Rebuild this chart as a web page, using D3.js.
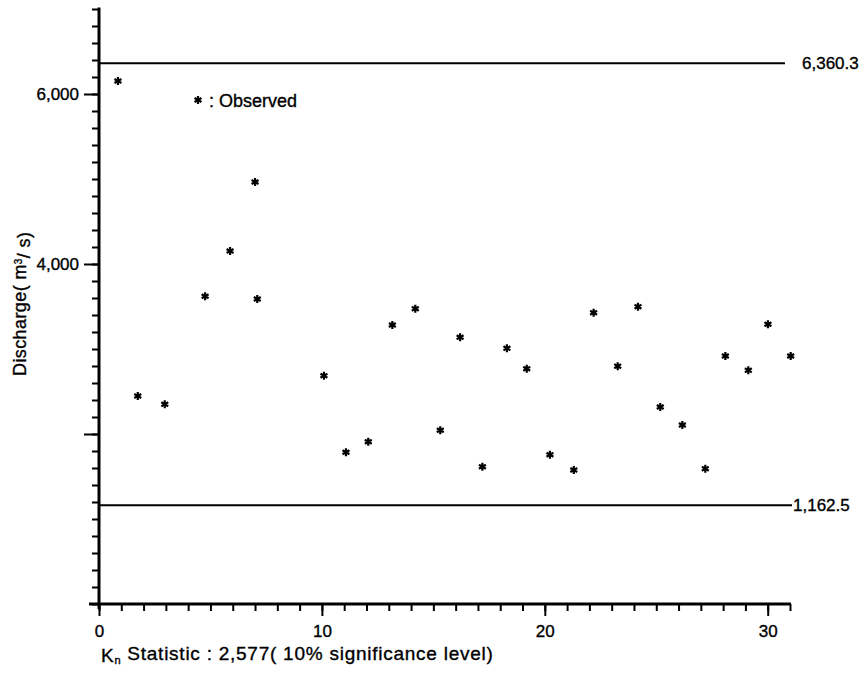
<!DOCTYPE html>
<html>
<head>
<meta charset="utf-8">
<script src="https://cdn.jsdelivr.net/npm/d3@7"></script>
<style>
  html, body { margin: 0; padding: 0; background: #fff; }
  svg text { font-family: "Liberation Sans", Arial, sans-serif; fill: #000; stroke: #000; stroke-width: 0.35px; }
</style>
</head>
<body>
<svg id="chart" width="864" height="677"></svg>
<script>
// ---- data ----
const obsX = [0.85, 1.74, 2.95, 4.76, 5.88, 7.0, 7.1, 10.09, 11.08, 12.08, 13.16, 14.19, 15.31, 16.2, 17.2,
              18.3, 19.19, 20.23, 21.3, 22.19, 23.27, 24.18, 25.18, 26.17, 27.2, 28.1, 29.13, 30.01, 31.03];
const obsQ = [6153, 2447, 2349, 3620, 4153, 4965, 3588, 2686, 1785, 1909, 3282, 3474, 2044, 3138, 1615,
              3008, 2768, 1756, 1576, 3427, 2798, 3498, 2318, 2106, 1592, 2918, 2749, 3291, 2918];
const refValues = [6360.3, 1162.5];
const refLabels = ["6,360.3", "1,162.5"];
const yLabelTicks = [4000, 6000];
const yLabelText = ["4,000", "6,000"];
const yMajorTicks = [2000, 4000, 6000];
const xMajorTicks = [0, 10, 20, 30];
const xTickLabels = ["0", "10", "20", "30"];

const svg = d3.select("#chart");
const x = d3.scaleLinear().domain([0, 31]).range([99, 790]);
const y = d3.scaleLinear().domain([0, 7000]).range([604, 9]);

// y minor ticks
const gyMinor = svg.append("g").attr("transform", `translate(${x(0)},0)`)
  .call(d3.axisLeft(y).tickValues(d3.range(0, 7001, 200)).tickSize(7).tickFormat(""));
gyMinor.select(".domain").remove();
gyMinor.selectAll("line").attr("stroke", "#000").attr("stroke-width", 2);

// y major ticks with labels
const gyMajor = svg.append("g").attr("transform", `translate(${x(0)},0)`)
  .call(d3.axisLeft(y).tickValues(yMajorTicks).tickSize(15).tickPadding(5)
    .tickFormat(d => { const i = yLabelTicks.indexOf(d); return i >= 0 ? yLabelText[i] : ""; }));
gyMajor.select(".domain").remove();
gyMajor.selectAll("line").attr("stroke", "#000").attr("stroke-width", 2);
gyMajor.selectAll("text").style("font-size", "17px").attr("fill", "#000");

// x minor ticks
const gxMinor = svg.append("g").attr("transform", `translate(0,${y(0)})`)
  .call(d3.axisBottom(x).tickValues(d3.range(0, 32, 1)).tickSize(7).tickFormat(""));
gxMinor.select(".domain").remove();
gxMinor.selectAll("line").attr("stroke", "#000").attr("stroke-width", 2);

// x major ticks with labels
const gxMajor = svg.append("g").attr("transform", `translate(0,${y(0)})`)
  .call(d3.axisBottom(x).tickValues(xMajorTicks).tickSize(12).tickPadding(9)
    .tickFormat((d, i) => xTickLabels[i]));
gxMajor.select(".domain").remove();
gxMajor.selectAll("line").attr("stroke", "#000").attr("stroke-width", 2);
gxMajor.selectAll("text").style("font-size", "17px").attr("fill", "#000");

// axis lines
svg.append("line").attr("x1", x(0)).attr("x2", x(0)).attr("y1", y(7000) - 1.5).attr("y2", y(0) + 5)
  .attr("stroke", "#000").attr("stroke-width", 3);
svg.append("line").attr("x1", x(0) - 10).attr("x2", x(31) + 1).attr("y1", y(0)).attr("y2", y(0))
  .attr("stroke", "#000").attr("stroke-width", 3);

// reference lines
const refEnd = [785, 792];
const refLabelX = [802, 793];
refValues.forEach((v, i) => {
  svg.append("line").attr("x1", x(0)).attr("x2", refEnd[i]).attr("y1", y(v)).attr("y2", y(v))
    .attr("stroke", "#000").attr("stroke-width", 2);
  svg.append("text").attr("x", refLabelX[i]).attr("y", y(v)).attr("dy", "0.35em")
    .style("font-size", "17px").text(refLabels[i]);
});

// observed points
const star = d3.symbol().type(d3.symbolAsterisk).size(45);
svg.append("g").selectAll("path").data(obsX).join("path")
  .attr("transform", (d, i) => `translate(${x(d)},${y(obsQ[i])})`)
  .attr("d", star).attr("fill", "none").attr("stroke", "#000").attr("stroke-width", 2.2);

// legend
svg.append("path").attr("transform", "translate(198,100)").attr("d", star)
  .attr("fill", "none").attr("stroke", "#000").attr("stroke-width", 2.2);
svg.append("text").attr("x", 209).attr("y", 107).style("font-size", "18px").text(": Observed");

// y axis title
svg.append("text").attr("transform", "translate(26,376) rotate(-90)")
  .style("font-size", "18px").style("letter-spacing", "0.4px")
  .call(t => {
    t.append("tspan").text("Discharge( m");
    t.append("tspan").attr("dy", "-0.45em").style("font-size", "10px").text("3");
    t.append("tspan").attr("dy", "0.45em").text("/ s)");
  });

// x axis title
svg.append("text").attr("x", 101).attr("y", 662).style("font-size", "19px").style("letter-spacing", "0.75px")
  .call(t => {
    t.append("tspan").text("K");
    t.append("tspan").attr("dy", "0.2em").style("font-size", "11px").text("n");
    t.append("tspan").attr("dy", "-0.2em").text(" Statistic : 2,577( 10% significance level)");
  });
</script>
</body>
</html>
